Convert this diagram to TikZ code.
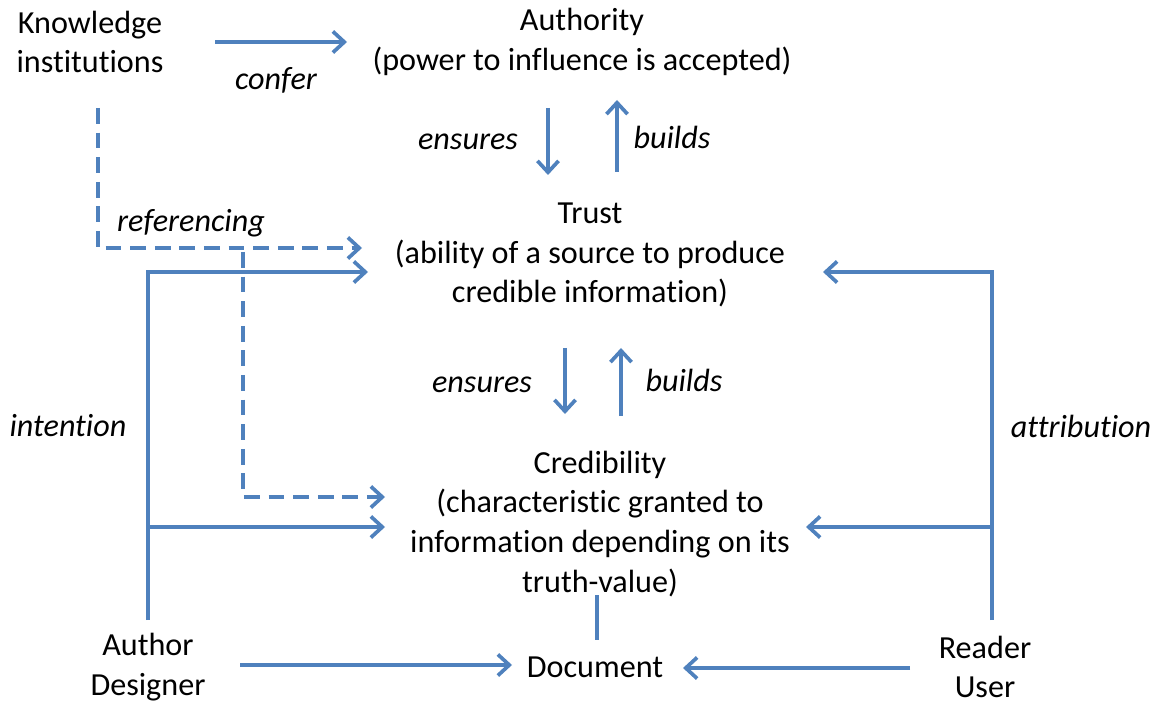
\documentclass[tikz,border=0pt]{standalone}
\usepackage{fontspec}
\setmainfont{Carlito}[Ligatures=NoCommon]
\usetikzlibrary{arrows.meta}
\definecolor{lnblue}{HTML}{4F81BD}
\tikzset{
  txt/.style={align=center, font=\fontsize{18.3}{22.7}\selectfont, inner sep=0pt},
  lab/.style={font=\fontsize{18.3}{22.7}\selectfont\itshape, inner sep=0pt},
  conn/.style={draw=lnblue, line width=2.1pt, line join=miter},
  arr/.style={conn, -{Straight Barb[length=6.5pt,width=12pt,line width=2.1pt]}},
  darr/.style={arr, dash pattern=on 9pt off 5pt}
}
\begin{document}
\begin{tikzpicture}[x=0.02cm,y=-0.02cm]
\useasboundingbox (0,0) rectangle (1159,702);
% nodes
\node[txt] (ki) at (90,42) {Knowledge\\institutions};
\node[txt] (auth) at (582,42) {Authority\\(power to influence is accepted)};
\node[txt] (trust) at (590,255) {Trust\\(ability of a source to produce\\credible information)};
\node[txt] (cred) at (600,524) {Credibility\\(characteristic granted to\\information depending on its\\truth-value)};
\node[txt] (doc) at (595,667) {Document};
\node[txt] (au) at (148,667) {Author\\Designer};
\node[txt] (rd) at (985,667) {Reader\\User};
% labels
\node[lab] (lconfer) at (276,80) {confer};
\node[lab] (lens1) at (468,142) {ensures};
\node[lab] (lbld1) at (672,137) {builds};
\node[lab] (lens2) at (482,385) {ensures};
\node[lab] (lbld2) at (684,380) {builds};
\node[lab] (lref) at (191,223) {referencing};
\node[lab] (lint) at (68,426) {intention};
\node[lab] (latt) at (1081,426) {attribution};
% coordinates
\coordinate (c1s) at (215,42); \coordinate (c1e) at (347,42);
\coordinate (e1s) at (548,108); \coordinate (e1e) at (548,175);
\coordinate (b1s) at (617,172); \coordinate (b1e) at (617,100);
\coordinate (e2s) at (565,348); \coordinate (e2e) at (565,414);
\coordinate (b2s) at (621,416); \coordinate (b2e) at (621,348);
\coordinate (dtop) at (597,595); \coordinate (dbot) at (597,640);
\coordinate (ads) at (240,665); \coordinate (ade) at (512,665);
\coordinate (rds) at (910,668); \coordinate (rde) at (683,668);
\coordinate (ab) at (148,620); \coordinate (at) at (148,272);
\coordinate (ate) at (368,272); \coordinate (am) at (148,527); \coordinate (ame) at (385,527);
\coordinate (rb) at (992,620); \coordinate (rt) at (992,272);
\coordinate (rte) at (823,272); \coordinate (rm) at (992,527); \coordinate (rme) at (806,527);
\coordinate (k1) at (98,108); \coordinate (k2) at (98,248); \coordinate (k3) at (362,248);
\coordinate (k4) at (243,252); \coordinate (k5) at (243,497); \coordinate (k6) at (385,497);
% connectors
\draw[arr] (c1s) -- (c1e);
\draw[arr] (e1s) -- (e1e);
\draw[arr] (b1s) -- (b1e);
\draw[arr] (e2s) -- (e2e);
\draw[arr] (b2s) -- (b2e);
\draw[conn] (dtop) -- (dbot);
\draw[arr] (ads) -- (ade);
\draw[arr] (rds) -- (rde);
\draw[arr] (ab) -- (at) -- (ate);
\draw[arr] (am) -- (ame);
\draw[arr] (rb) -- (rt) -- (rte);
\draw[arr] (rm) -- (rme);
\draw[darr] (k1) -- (k2) -- (k3);
\draw[darr] (k4) -- (k5) -- (k6);
\end{tikzpicture}
\end{document}
